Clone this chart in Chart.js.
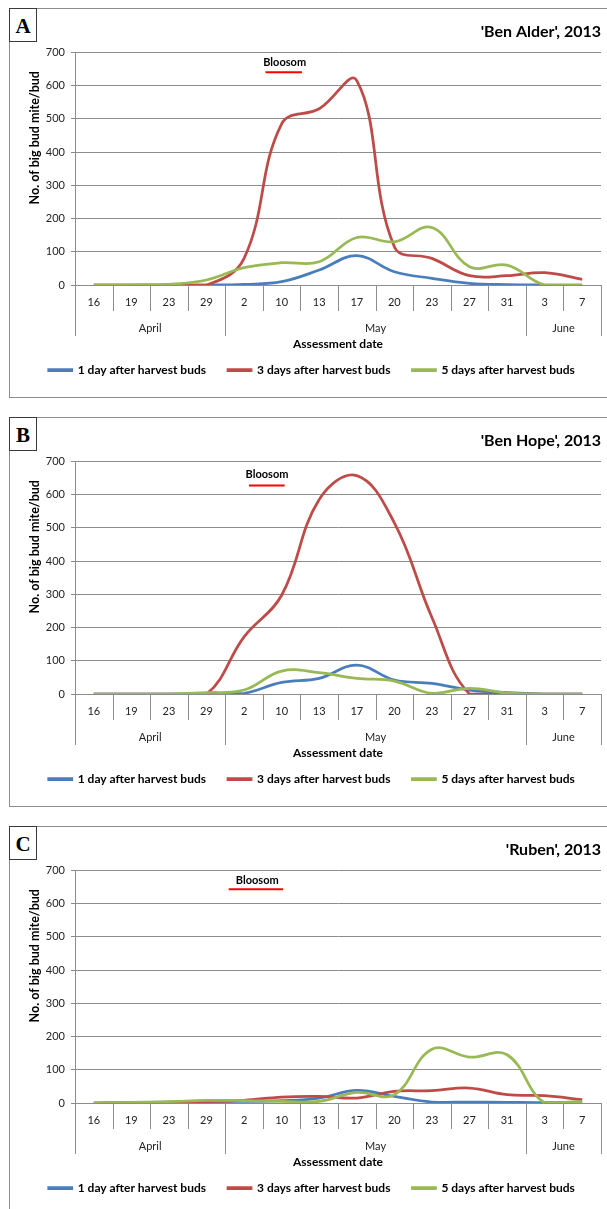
<!DOCTYPE html>
<html><head><meta charset="utf-8">
<script src="https://cdn.jsdelivr.net/npm/chart.js@4.4.1/dist/chart.umd.min.js"></script>
<style>
html,body{margin:0;padding:0;background:#fff;overflow:hidden;width:607px;height:1209px;position:relative;}
.panel{position:absolute;left:9px;width:610px;height:388px;border:1px solid #8c8c8c;background:#fff;}
.panel canvas{position:absolute;left:0;top:0;}
.tag{position:absolute;left:-1px;top:-1px;width:26px;height:32px;border:1px solid #3a3a3a;font:bold 21px "Liberation Serif","DejaVu Serif",serif;text-align:center;line-height:34px;color:#000;background:#fff;}
</style></head><body>
<div class="panel" style="top:8px"><canvas id="cA" width="610" height="388"></canvas><div class="tag">A</div></div>
<div class="panel" style="top:417px"><canvas id="cB" width="610" height="388"></canvas><div class="tag">B</div></div>
<div class="panel" style="top:826px"><canvas id="cC" width="610" height="388"></canvas><div class="tag">C</div></div>
<script>
// ---- data ----
const dayLabels = ['16','19','23','29','2','10','13','17','20','23','27','31','3','7'];
const monthLabels = ['April','May','June'];
const monthSpans = [4, 8, 2];
const seriesNames = ['1 day after harvest buds','3 days after harvest buds','5 days after harvest buds'];
const panelTitles = ["'Ben Alder', 2013", "'Ben Hope', 2013", "'Ruben', 2013"];
const yTicks = [0,100,200,300,400,500,600,700];
const xAxisTitle = 'Assessment date';
const yAxisTitle = 'No. of big bud mite/bud';
const bloomText = 'Bloosom';

const benAlder1day  = [0,0,0,0,2,10,45,88,40,20,5,1,0,0];
const benAlder3days = [0,0,0,0,80,485,530,615,115,80,28,28,37,17];
const benAlder5days = [0,0,2,15,52,67,70,143,130,173,55,60,0,0];

const benHope1day  = [0,0,0,0,2,35,47,87,42,32,12,4,0,0];
const benHope3days = [0,0,0,0,172,297,585,657,515,230,0,0,0,0];
const benHope5days = [0,0,0,4,12,69,64,47,39,2,17,3,0,0];

const ruben1day  = [0,1,3,5,5,7,15,38,20,3,3,2,1,2];
const ruben3days = [0,1,2,4,8,18,20,15,35,37,45,25,22,10];
const ruben5days = [0,2,4,8,7,5,5,32,25,162,138,145,0,5];

// ---- styles ----
const seriesColors = ['#4A7EBB', '#BE4B48', '#98B954'];
const gridColor = '#8c8c8c';
const FONT = 'Lato, "Open Sans", sans-serif';
Chart.defaults.font.family = FONT;
Chart.defaults.color = '#222';

const decor = {
  id: 'decor',
  afterDraw(chart, args, o) {
    const {ctx, chartArea: ca, scales: {x, y}} = chart;
    ctx.save();
    ctx.strokeStyle = gridColor; ctx.lineWidth = 1;
    const n = chart.data.labels.length;
    const monthBounds = [0];
    o.monthSpans.forEach(s => monthBounds.push(monthBounds[monthBounds.length - 1] + s));
    for (let i = 0; i <= n; i++) {
      const bx = Math.round(x.getPixelForValue(i - 0.5)) + 0.5;
      const len = monthBounds.includes(i) ? 51 : 26;
      ctx.beginPath(); ctx.moveTo(bx, ca.bottom); ctx.lineTo(bx, ca.bottom + len); ctx.stroke();
    }
    ctx.fillStyle = '#222';
    ctx.textAlign = 'center'; ctx.textBaseline = 'middle';
    ctx.font = '11px ' + FONT;
    o.months.forEach((m, k) => {
      const a = x.getPixelForValue(monthBounds[k] - 0.5), b = x.getPixelForValue(monthBounds[k + 1] - 0.5);
      ctx.fillText(m, (a + b) / 2, ca.bottom + 43);
    });
    ctx.fillStyle = '#000';
    ctx.font = 'bold 12px ' + FONT;
    ctx.fillText(o.xTitle, (ca.left + ca.right) / 2, ca.bottom + 59);
    ctx.save();
    ctx.font = 'bold 12.5px ' + FONT;
    ctx.translate(ca.left - 40, y.getPixelForValue(443));
    ctx.rotate(-Math.PI / 2);
    ctx.fillText(o.yTitle, 0, 0);
    ctx.restore();
    const b = o.bloom;
    ctx.font = 'bold 11px ' + FONT;
    ctx.fillStyle = '#000';
    ctx.fillText(b.text, x.getPixelForValue(b.x), y.getPixelForValue(b.y));
    ctx.strokeStyle = '#FF0000'; ctx.lineWidth = 2;
    ctx.beginPath();
    ctx.moveTo(x.getPixelForValue(b.x0), y.getPixelForValue(b.yLine));
    ctx.lineTo(x.getPixelForValue(b.x1), y.getPixelForValue(b.yLine));
    ctx.stroke();
    ctx.restore();
  }
};

function makePanel(id, title, s1, s3, s5, bloom) {
  const series = [s1, s3, s5];
  return new Chart(document.getElementById(id), {
    type: 'line',
    data: {
      labels: dayLabels,
      datasets: series.map((d, i) => ({
        label: seriesNames[i], data: d,
        borderColor: seriesColors[i], backgroundColor: seriesColors[i],
        borderWidth: 2.75, pointRadius: 0, tension: 0.4, fill: false,
        order: 2 - i
      }))
    },
    options: {
      responsive: false, animation: false,
      layout: {padding: {top: 0, left: 12.6, right: 19, bottom: 11}},
      plugins: {
        title: {display: true, text: title, align: 'end', color: '#000',
          font: {size: 16, weight: 'bold'}, padding: {top: 13.4, bottom: 10.7}},
        legend: {position: 'bottom',
          labels: {boxWidth: 23, boxHeight: 1, padding: 22, color: '#000',
            font: {size: 12, weight: 'bold'},
            sort: (a, b) => a.datasetIndex - b.datasetIndex}},
        tooltip: {enabled: false},
        decor: {months: monthLabels, monthSpans: monthSpans, xTitle: xAxisTitle, yTitle: yAxisTitle, bloom: bloom}
      },
      scales: {
        x: {
          offset: true,
          grid: {display: false, drawTicks: false},
          border: {display: false},
          ticks: {autoSkip: false, maxRotation: 0, padding: 11, font: {size: 11}, color: '#222'},
          afterFit: s => { s.height = 57; }
        },
        y: {
          min: 0, max: 700,
          afterBuildTicks: s => { s.ticks = yTicks.map(v => ({value: v})); },
          grid: {color: gridColor, tickLength: 4, lineWidth: 1},
          border: {display: true, color: gridColor},
          ticks: {padding: 6, font: {size: 11}, color: '#222'},
          afterFit: s => { s.width = 52.4; }
        }
      }
    },
    plugins: [decor]
  });
}

makePanel('cA', panelTitles[0], benAlder1day, benAlder3days, benAlder5days,
  {text: bloomText, x: 5.08, y: 668, x0: 4.57, x1: 5.54, yLine: 640});
makePanel('cB', panelTitles[1], benHope1day, benHope3days, benHope5days,
  {text: bloomText, x: 4.61, y: 660, x0: 4.13, x1: 5.08, yLine: 627});
makePanel('cC', panelTitles[2], ruben1day, ruben3days, ruben5days,
  {text: bloomText, x: 4.35, y: 670, x0: 3.59, x1: 5.04, yLine: 643});
</script>
</body></html>
